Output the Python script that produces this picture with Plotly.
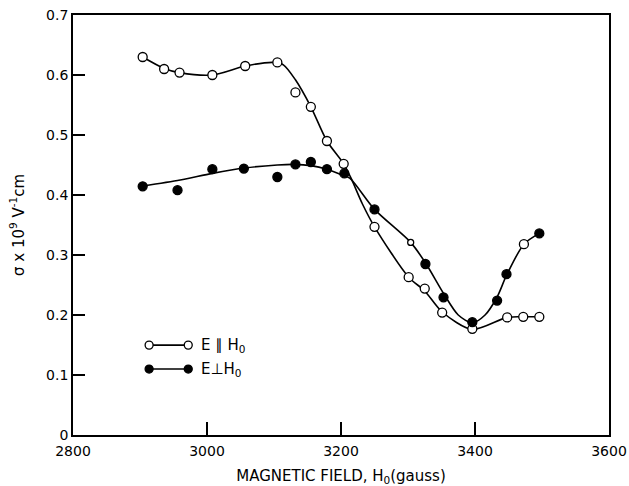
import plotly.graph_objects as go

# --- Data ---
# E || H0 : measured points (open circles)
par_x = [2904, 2936, 2959, 3008, 3057, 3105, 3132, 3155, 3179, 3204, 3250, 3301, 3325, 3351, 3396, 3448, 3472, 3496]
par_y = [0.630, 0.610, 0.604, 0.600, 0.615, 0.621, 0.571, 0.547, 0.490, 0.452, 0.347, 0.263, 0.244, 0.204, 0.177, 0.196, 0.197, 0.197]

# E || H0 : drawn smooth curve
par_curve_x = [2904, 2936, 2959, 3008, 3057, 3100, 3114, 3132, 3155, 3179, 3204, 3215, 3232, 3250, 3301, 3325, 3351, 3396, 3448, 3472, 3496]
par_curve_y = [0.630, 0.611, 0.604, 0.600, 0.615, 0.621, 0.617, 0.592, 0.547, 0.490, 0.452, 0.428, 0.385, 0.347, 0.263, 0.240, 0.205, 0.176, 0.196, 0.197, 0.197]

# E perp H0 : measured points (filled circles; two drawn open)
perp_x = [2904, 2956, 3008, 3055, 3105, 3132, 3155, 3179, 3205, 3250, 3304, 3326, 3353, 3396, 3433, 3447, 3473, 3496]
perp_y = [0.4145, 0.408, 0.443, 0.444, 0.430, 0.451, 0.455, 0.443, 0.436, 0.376, 0.321, 0.285, 0.2295, 0.188, 0.224, 0.268, 0.318, 0.336]
perp_open = [False, False, False, False, False, False, False, False, False, False, True, False, False, False, False, False, True, False]

# E perp H0 : drawn smooth curve
perp_curve_x = [2904, 2960, 3008, 3056, 3105, 3130, 3155, 3179, 3200, 3213, 3250, 3304, 3326, 3353, 3375, 3396, 3415, 3433, 3447, 3473, 3496]
perp_curve_y = [0.415, 0.425, 0.436, 0.445, 0.450, 0.451, 0.449, 0.443, 0.434, 0.428, 0.376, 0.321, 0.287, 0.236, 0.200, 0.187, 0.200, 0.230, 0.266, 0.318, 0.336]

x_ticks = [2800, 3000, 3200, 3400, 3600]
y_ticks = [0, 0.1, 0.2, 0.3, 0.4, 0.5, 0.6, 0.7]

FONT = "DejaVu Sans, Liberation Sans, Arial, sans-serif"

fig = go.Figure()

fig.add_trace(go.Scatter(x=par_curve_x, y=par_curve_y, mode="lines",
                         line=dict(color="black", width=1.6, shape="spline", smoothing=0.8),
                         showlegend=False, hoverinfo="skip"))
fig.add_trace(go.Scatter(x=perp_curve_x, y=perp_curve_y, mode="lines",
                         line=dict(color="black", width=1.6, shape="spline", smoothing=0.8),
                         showlegend=False, hoverinfo="skip"))

fig.add_trace(go.Scatter(x=par_x, y=par_y, mode="markers", name="E ∥ H0",
                         marker=dict(symbol="circle", size=9, color="white", opacity=1,
                                     line=dict(color="black", width=1.3)),
                         showlegend=False))
fig.add_trace(go.Scatter(x=perp_x, y=perp_y, mode="markers", name="E⊥H0",
                         marker=dict(symbol="circle", opacity=1,
                                     size=[6 if (o and i == 10) else 9 for i, o in enumerate(perp_open)],
                                     color=["white" if o else "black" for o in perp_open],
                                     line=dict(color="black", width=1.3)),
                         showlegend=False))

# Hand-drawn style legend (marker - line - marker)
shapes = []
annotations = []
leg_rows = [(0.214, "white", "E ∥ H<sub>0</sub>"), (0.157, "black", "E⊥H<sub>0</sub>")]
lx0, lx1, ltext = 0.142, 0.215, 0.236
for ly, fill, label in leg_rows:
    shapes.append(dict(type="line", xref="paper", yref="paper", x0=lx0, x1=lx1, y0=ly, y1=ly,
                       line=dict(color="black", width=1.6)))
    for lx in (lx0, lx1):
        shapes.append(dict(type="circle", xref="paper", yref="paper", xsizemode="pixel",
                           ysizemode="pixel", xanchor=lx, yanchor=ly, x0=-4, x1=4, y0=-4, y1=4,
                           fillcolor=fill, line=dict(color="black", width=1.3)))
    annotations.append(dict(xref="paper", yref="paper", x=ltext, y=ly, text=label,
                            showarrow=False, xanchor="left", yanchor="middle",
                            font=dict(family=FONT, size=15, color="black")))

fig.update_layout(
    width=629, height=486,
    margin=dict(l=73, r=20, t=15, b=51),
    paper_bgcolor="white", plot_bgcolor="white",
    font=dict(family=FONT, size=14, color="black"),
    shapes=shapes, annotations=annotations,
    showlegend=False,
)
fig.update_xaxes(range=[2800, 3600], tickvals=x_ticks, ticktext=[str(v) for v in x_ticks],
                 ticks="inside", ticklen=13, tickwidth=1.5, tickcolor="black",
                 showline=True, linewidth=1.8, linecolor="black", mirror=True,
                 showgrid=False, zeroline=False, automargin=False, ticklabelstandoff=2,
                 title=dict(text="MAGNETIC FIELD, H<sub>0</sub>(gauss)", standoff=14,
                            font=dict(size=15)))
fig.update_yaxes(range=[0, 0.7], tickvals=y_ticks,
                 ticktext=["0", "0.1", "0.2", "0.3", "0.4", "0.5", "0.6", "0.7"],
                 ticks="inside", ticklen=12, tickwidth=1.5, tickcolor="black",
                 showline=True, linewidth=1.8, linecolor="black", mirror=True,
                 showgrid=False, zeroline=False, automargin=False,
                 title=dict(text="σ x 10<sup>9</sup> V<sup>-1</sup>cm", standoff=18,
                            font=dict(size=15)))

fig.write_html("out.html", config={"displayModeBar": False},
               post_script="document.body.style.margin='0px';document.body.style.overflow='hidden';")
